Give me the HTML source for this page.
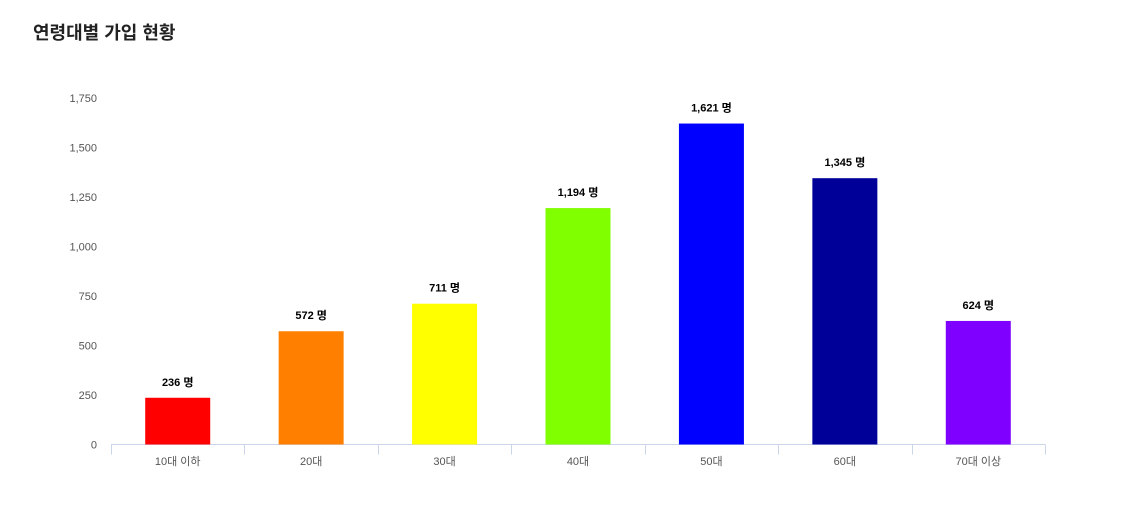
<!DOCTYPE html>
<html><head><meta charset="utf-8"><style>
body{margin:0;background:#fff;font-family:"Liberation Sans","Noto Sans CJK KR",sans-serif;}
</style></head><body>
<div style="position:relative;width:1136px;height:507px;">
<div style="position:absolute;left:33px;top:19px;font-size:18px;font-weight:bold;color:#222;">연령대별 가입 현황</div>
<svg id="chart" width="1136" height="507" style="position:absolute;left:0;top:0"></svg>
</div>
<script>
const categories=["10대 이하","20대","30대","40대","50대","60대","70대 이상"];
const values=[236,572,711,1194,1621,1345,624];
const colors=["#ff0000","#ff8000","#ffff00","#80ff00","#0000ff","#000099","#8000ff"];
const yTicks=[0,250,500,750,1000,1250,1500,1750];
const svg=document.getElementById('chart');
const NS='http://www.w3.org/2000/svg';
const x0=111,x1=1045,yBase=444.5,yTop=98,yMax=1750;
const y=v=>yBase-(v/yMax)*(yBase-yTop);
const bw=(x1-x0)/categories.length;
function mk(t,a){const e=document.createElementNS(NS,t);for(const k in a)e.setAttribute(k,a[k]);svg.appendChild(e);return e;}
yTicks.forEach(t=>{
 const e=mk('text',{x:97,y:y(t)+4,'text-anchor':'end','font-size':11,fill:'#555','font-family':'Liberation Sans, sans-serif'});
 e.textContent=t.toLocaleString('en-US');
 
 
});
const ax=mk('line',{x1:x0,x2:x1,y1:yBase,y2:yBase,stroke:'#ccd6eb','stroke-width':1});


for(let i=0;i<=categories.length;i++){
 const tx=Math.round(x0+i*bw)+0.5;
 const tk=mk('line',{x1:tx,x2:tx,y1:yBase,y2:yBase+10,stroke:'#ccd6eb'});
 
 
}
categories.forEach((c,i)=>{
 const cx=x0+(i+0.5)*bw;
 const lb=mk('text',{x:cx,y:465,'text-anchor':'middle','font-size':11,fill:'#555'});
 lb.textContent=c;
 
 
 const v=values[i];
 const r=mk('rect',{x:cx-32.5,y:y(v),width:65,height:yBase-y(v),fill:colors[i]});
 
 
 const dl=mk('text',{x:cx,y:y(v)-12,'text-anchor':'middle','font-size':11,'font-weight':'bold',fill:'#000'});
 dl.textContent=v.toLocaleString('en-US')+' 명';
 
 
});
</script>
</body></html>
